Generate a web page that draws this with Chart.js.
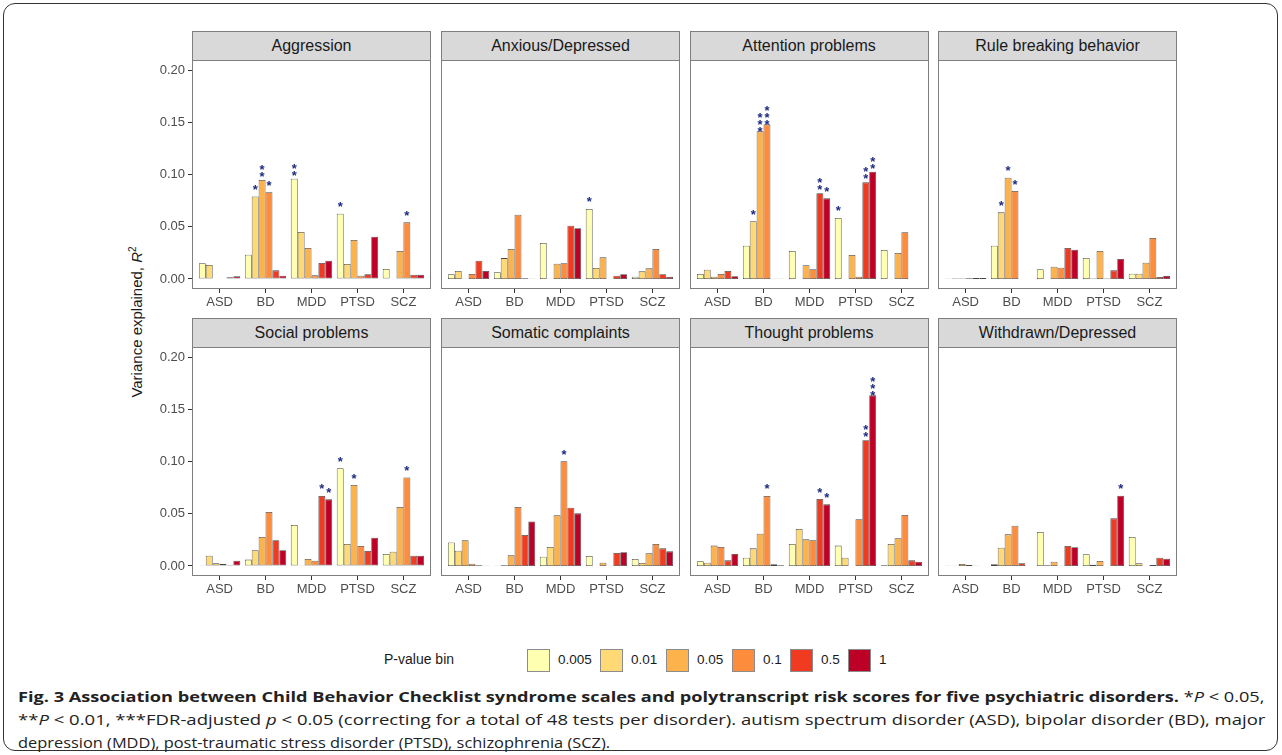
<!DOCTYPE html>
<html>
<head>
<meta charset="utf-8">
<script src="https://cdn.jsdelivr.net/npm/chart.js@4"></script>
<style>
body { margin:0; background:#fff; width:1282px; height:755px; overflow:hidden; position:relative; font-family:"Liberation Sans", Arial, sans-serif; }
.frame { position:absolute; left:3px; top:3px; width:1273px; height:746px; border:1.5px solid #333; border-radius:12px; }
.strip { position:absolute; height:30px; background:#d9d9d9; border:1px solid #7f7f7f; box-sizing:border-box; text-align:center; font-size:16px; line-height:28px; color:#1a1a1a; }
canvas { position:absolute; }
.ytitle { position:absolute; left:136px; top:322px; transform:translate(-50%,-50%) rotate(-90deg); font-size:15px; color:#1a1a1a; white-space:nowrap; }
.legtitle { position:absolute; left:384px; top:651px; font-size:14px; color:#1a1a1a; }
.key { position:absolute; top:649px; width:23px; height:23px; box-sizing:border-box; border:1px solid #8c8c8c; }
.keylab { position:absolute; top:652px; font-size:13.5px; color:#1a1a1a; }
.cap { position:absolute; left:18px; white-space:nowrap; font-family:"Open Sans", sans-serif; font-size:15px; color:#222; transform-origin:0 50%; }
</style>
</head>
<body>
<div class="frame"></div>
<div class="ytitle">Variance explained, <i>R</i><sup style="font-size:10px">2</sup></div>
<div class="legtitle">P-value bin</div>
<div class="cap" id="cap1" style="top:686px"><b>Fig. 3 Association between Child Behavior Checklist syndrome scales and polytranscript risk scores for five psychiatric disorders.</b> *<i>P</i> &lt; 0.05,</div>
<div class="cap" id="cap2" style="top:709px">**<i>P</i> &lt; 0.01, ***FDR-adjusted <i>p</i> &lt; 0.05 (correcting for a total of 48 tests per disorder). autism spectrum disorder (ASD), bipolar disorder (BD), major</div>
<div class="cap" id="cap3" style="top:732px">depression (MDD), post-traumatic stress disorder (PTSD), schizophrenia (SCZ).</div>
<script>
const disorders = ['ASD', 'BD', 'MDD', 'PTSD', 'SCZ'];
const bins = ['0.005', '0.01', '0.05', '0.1', '0.5', '1'];
const binColors = ['#ffffb2', '#fed976', '#feb24c', '#fd8d3c', '#f03b20', '#bd0026'];
const panelTitles = ['Aggression', 'Anxious/Depressed', 'Attention problems', 'Rule breaking behavior',
                     'Social problems', 'Somatic complaints', 'Thought problems', 'Withdrawn/Depressed'];
const yTicks = [0, 0.05, 0.10, 0.15, 0.20];

// R2 values, one row per disorder, one column per P-value bin
const aggression = [
    [0.0150, 0.0134, 0.0000, 0.0005, 0.0016, 0.0026],
    [0.0233, 0.0790, 0.0947, 0.0830, 0.0083, 0.0032],
    [0.0960, 0.0450, 0.0297, 0.0035, 0.0153, 0.0175],
    [0.0625, 0.0144, 0.0373, 0.0032, 0.0045, 0.0405],
    [0.0096, 0.0000, 0.0268, 0.0542, 0.0041, 0.0041]
];
const anxious = [
    [0.0045, 0.0077, 0.0003, 0.0048, 0.0175, 0.0077],
    [0.0064, 0.0200, 0.0287, 0.0616, 0.0006, 0.0003],
    [0.0344, 0.0003, 0.0147, 0.0150, 0.0510, 0.0485],
    [0.0670, 0.0105, 0.0207, 0.0000, 0.0032, 0.0045],
    [0.0022, 0.0073, 0.0102, 0.0287, 0.0045, 0.0022]
];
const attention = [
    [0.0048, 0.0089, 0.0022, 0.0048, 0.0077, 0.0026],
    [0.0319, 0.0552, 0.1413, 0.1480, 0.0003, 0.0003],
    [0.0268, 0.0000, 0.0131, 0.0093, 0.0820, 0.0772],
    [0.0584, 0.0000, 0.0230, 0.0022, 0.0925, 0.1027],
    [0.0278, 0.0000, 0.0249, 0.0447, 0.0000, 0.0000]
];
const ruleBreaking = [
    [0.0003, 0.0005, 0.0005, 0.0008, 0.0010, 0.0010],
    [0.0319, 0.0638, 0.0970, 0.0842, 0.0000, 0.0000],
    [0.0093, 0.0000, 0.0118, 0.0108, 0.0297, 0.0280],
    [0.0201, 0.0005, 0.0268, 0.0005, 0.0083, 0.0191],
    [0.0051, 0.0051, 0.0156, 0.0392, 0.0020, 0.0030]
];
const social = [
    [0.0006, 0.0099, 0.0026, 0.0019, 0.0010, 0.0051],
    [0.0061, 0.0150, 0.0278, 0.0517, 0.0246, 0.0150],
    [0.0392, 0.0003, 0.0067, 0.0051, 0.0670, 0.0638],
    [0.0935, 0.0210, 0.0775, 0.0191, 0.0144, 0.0271],
    [0.0115, 0.0137, 0.0565, 0.0848, 0.0099, 0.0099]
];
const somatic = [
    [0.0226, 0.0147, 0.0246, 0.0022, 0.0006, 0.0003],
    [0.0003, 0.0006, 0.0102, 0.0565, 0.0297, 0.0427],
    [0.0089, 0.0182, 0.0485, 0.1002, 0.0558, 0.0504],
    [0.0096, 0.0000, 0.0032, 0.0003, 0.0124, 0.0131],
    [0.0067, 0.0029, 0.0121, 0.0211, 0.0169, 0.0140]
];
const thought = [
    [0.0045, 0.0032, 0.0195, 0.0182, 0.0054, 0.0115],
    [0.0080, 0.0169, 0.0309, 0.0670, 0.0016, 0.0006],
    [0.0210, 0.0354, 0.0255, 0.0246, 0.0641, 0.0590],
    [0.0195, 0.0080, 0.0000, 0.0447, 0.1203, 0.1633],
    [0.0006, 0.0210, 0.0265, 0.0488, 0.0054, 0.0041]
];
const withdrawn = [
    [0.0003, 0.0003, 0.0019, 0.0010, 0.0003, 0.0000],
    [0.0016, 0.0175, 0.0303, 0.0386, 0.0026, 0.0000],
    [0.0325, 0.0006, 0.0041, 0.0003, 0.0191, 0.0179],
    [0.0112, 0.0013, 0.0048, 0.0000, 0.0456, 0.0673],
    [0.0278, 0.0026, 0.0000, 0.0010, 0.0080, 0.0070]
];

// number of asterisks on each bar
const aggressionSig   = [[0,0,0,0,0,0],[0,1,2,1,0,0],[2,0,0,0,0,0],[1,0,0,0,0,0],[0,0,0,1,0,0]];
const anxiousSig      = [[0,0,0,0,0,0],[0,0,0,0,0,0],[0,0,0,0,0,0],[1,0,0,0,0,0],[0,0,0,0,0,0]];
const attentionSig    = [[0,0,0,0,0,0],[0,1,3,3,0,0],[0,0,0,0,2,1],[1,0,0,0,2,2],[0,0,0,0,0,0]];
const ruleBreakingSig = [[0,0,0,0,0,0],[0,1,1,1,0,0],[0,0,0,0,0,0],[0,0,0,0,0,0],[0,0,0,0,0,0]];
const socialSig       = [[0,0,0,0,0,0],[0,0,0,0,0,0],[0,0,0,0,1,1],[1,0,1,0,0,0],[0,0,0,1,0,0]];
const somaticSig      = [[0,0,0,0,0,0],[0,0,0,0,0,0],[0,0,0,1,0,0],[0,0,0,0,0,0],[0,0,0,0,0,0]];
const thoughtSig      = [[0,0,0,0,0,0],[0,0,0,1,0,0],[0,0,0,0,1,1],[0,0,0,0,2,3],[0,0,0,0,0,0]];
const withdrawnSig    = [[0,0,0,0,0,0],[0,0,0,0,0,0],[0,0,0,0,0,0],[0,0,0,0,0,1],[0,0,0,0,0,0]];

const panelValues = [aggression, anxious, attention, ruleBreaking, social, somatic, thought, withdrawn];
const panelSig = [aggressionSig, anxiousSig, attentionSig, ruleBreakingSig, socialSig, somaticSig, thoughtSig, withdrawnSig];

// layout of the facets
const panelLeft = [192, 441, 689.5, 938];
const panelW = 239;
const plotTop = [59.5, 347];
const plotH = 229;
const stripH = 30;

// border + significance stars
const panelPlugin = {
    id: 'panel',
    afterDatasetsDraw(chart) {
        const ctx = chart.ctx;
        const sig = chart.options.plugins.panel.sig;
        ctx.save();
        ctx.fillStyle = '#1c2a80';
        ctx.font = 'bold 13px "Liberation Sans"';
        ctx.textAlign = 'center';
        ctx.textBaseline = 'alphabetic';
        chart.data.datasets.forEach((ds, i) => {
            const meta = chart.getDatasetMeta(i);
            meta.data.forEach((bar, j) => {
                const n = sig[j][i];
                for (let k = 0; k < n; k++) {
                    const yc = bar.y - 10 + ((n - 1) / 2 - k) * 6.8;
                    ctx.fillText('*', bar.x, yc + 7.5);
                }
            });
        });
        const a = chart.chartArea;
        ctx.strokeStyle = '#7f7f7f';
        ctx.lineWidth = 1;
        ctx.strokeRect(Math.round(a.left) + 0.5, Math.round(a.top) + 0.5, Math.round(a.right - a.left) - 1, Math.round(a.bottom - a.top) - 1);
        ctx.restore();
    }
};

function makePanel(idx) {
    const r = Math.floor(idx / 4), c = idx % 4;
    const yw = c === 0 ? 72 : 0;
    const padTop = 12;

    const strip = document.createElement('div');
    strip.className = 'strip';
    strip.style.left = panelLeft[c] + 'px';
    strip.style.top = (plotTop[r] - stripH + 1) + 'px';
    strip.style.width = panelW + 'px';
    strip.textContent = panelTitles[idx];
    document.body.appendChild(strip);

    const cv = document.createElement('canvas');
    cv.width = panelW + yw;
    cv.height = plotH + 26 + padTop;
    cv.style.left = (panelLeft[c] - yw) + 'px';
    cv.style.top = (plotTop[r] - padTop) + 'px';
    document.body.appendChild(cv);

    const vals = panelValues[idx];
    const datasets = bins.map((b, i) => ({
        label: b,
        data: disorders.map((d, j) => ({ x: j, y: vals[j][i] })),
        backgroundColor: binColors[i],
        borderColor: 'rgba(50,50,50,0.9)',
        borderWidth: 0.8,
        borderSkipped: false,
        barPercentage: 1,
        categoryPercentage: 0.9
    }));

    const tickFont = { size: 13, family: 'Liberation Sans' };
    new Chart(cv, {
        type: 'bar',
        data: { datasets },
        options: {
            responsive: false,
            animation: false,
            layout: { padding: { top: padTop, left: 0, right: 0, bottom: 0 } },
            plugins: { legend: { display: false }, tooltip: { enabled: false }, panel: { sig: panelSig[idx] } },
            scales: {
                x: {
                    type: 'linear', min: -0.6, max: 4.6, offset: false,
                    afterBuildTicks: s => { s.ticks = disorders.map((d, j) => ({ value: j })); },
                    afterFit: s => { s.height = 26; },
                    ticks: { callback: v => disorders[v], autoSkip: false, maxRotation: 0, padding: 2, color: '#4d4d4d', font: tickFont },
                    grid: { offset: false, drawOnChartArea: false, tickLength: 4, color: '#333' },
                    border: { display: false }
                },
                y: {
                    display: c === 0,
                    min: -0.00957, max: 0.20957,
                    afterBuildTicks: s => { s.ticks = yTicks.map(v => ({ value: v })); },
                    afterFit: s => { s.width = yw; },
                    ticks: { callback: v => v.toFixed(2), padding: 3, color: '#4d4d4d', font: tickFont },
                    grid: { drawOnChartArea: false, tickLength: 4, color: '#333' },
                    border: { display: false }
                }
            }
        },
        plugins: [panelPlugin]
    });
}

for (let i = 0; i < 8; i++) makePanel(i);

// legend
const keyLeft = [527, 600, 666, 732, 790, 848];
bins.forEach((b, i) => {
    const k = document.createElement('div');
    k.className = 'key';
    k.style.left = keyLeft[i] + 'px';
    k.style.background = binColors[i];
    document.body.appendChild(k);
    const l = document.createElement('div');
    l.className = 'keylab';
    l.style.left = (keyLeft[i] + 31) + 'px';
    l.textContent = b;
    document.body.appendChild(l);
});

// fit caption lines to the reference widths
[['cap1', 1247], ['cap2', 1247], ['cap3', 592]].forEach(([id, w]) => {
    const el = document.getElementById(id);
    el.style.transform = 'scaleX(' + (w / el.offsetWidth) + ')';
});
</script>
</body>
</html>
